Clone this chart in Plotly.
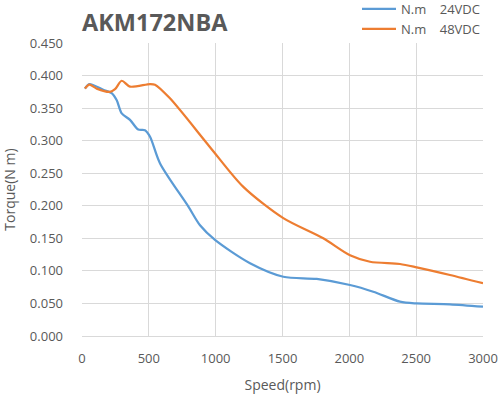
import plotly.graph_objects as go

speed_24 = [22, 55, 159, 222, 260, 297, 359, 421, 471, 509, 584, 795, 883, 995, 1257, 1506, 1756, 2005, 2179, 2379, 2504, 2753, 3000]
torque_24 = [0.380, 0.387, 0.378, 0.373, 0.362, 0.342, 0.332, 0.317, 0.316, 0.306, 0.265, 0.199, 0.170, 0.1475, 0.1117, 0.091, 0.0876, 0.0783, 0.068, 0.0527, 0.050, 0.0487, 0.045]

speed_48 = [22, 55, 110, 209, 247, 297, 359, 509, 546, 658, 958, 1207, 1506, 1805, 2005, 2155, 2379, 2504, 2753, 3000]
torque_48 = [0.380, 0.386, 0.380, 0.375, 0.379, 0.392, 0.383, 0.387, 0.386, 0.365, 0.290, 0.229, 0.181, 0.150, 0.124, 0.114, 0.1106, 0.1055, 0.0937, 0.081]

names = ["N.m\u00a0\u00a0\u00a0\u00a024VDC", "N.m\u00a0\u00a0\u00a0\u00a048VDC"]
colors = ["#5b9bd5", "#ed7d31"]

fig = go.Figure()
for xs, ys, nm, c in [(speed_24, torque_24, names[0], colors[0]), (speed_48, torque_48, names[1], colors[1])]:
    fig.add_trace(go.Scatter(x=xs, y=ys, name=nm, mode="lines",
                             line=dict(color=c, width=2.25, shape="spline", smoothing=0.8)))

font_fam = "Open Sans, DejaVu Sans, sans-serif"
grey = "#595959"
fig.update_layout(
    width=500, height=397,
    margin=dict(l=82, r=17, t=43, b=61, autoexpand=False),
    paper_bgcolor="white", plot_bgcolor="white",
    font=dict(family=font_fam, size=13, color=grey),
    title=dict(text="<b>AKM172NBA</b>", x=82/500, xanchor="left", y=1 - 23/397, yanchor="middle",
               font=dict(size=23.5, color=grey, family=font_fam)),
    legend=dict(x=1 + 2/401, xanchor="right", y=1 + 49/293, yanchor="top",
                bgcolor="rgba(0,0,0,0)", font=dict(size=13, color=grey), itemwidth=34,
                tracegroupgap=0),
    xaxis=dict(range=[0, 3000], dtick=500, tick0=0, showgrid=True, gridcolor="#d9d9d9",
               showline=True, linecolor="#d9d9d9", linewidth=1, zeroline=False, ticks="",
               automargin=False, ticklabelstandoff=10,
               title=dict(text="Speed(rpm)", standoff=14, font=dict(size=14, color=grey)),
               tickfont=dict(size=13, color=grey)),
    yaxis=dict(range=[0, 0.45], dtick=0.05, tick0=0, tickformat=".3f", showgrid=True, gridcolor="#d9d9d9",
               zeroline=False, showline=False, ticks="", automargin=False, ticklabelstandoff=18,
               title=dict(text="Torque(N m)", standoff=14, font=dict(size=14, color=grey)),
               tickfont=dict(size=13, color=grey)),
)
fig.write_html("out.html", config={"displayModeBar": False},
               post_script="document.body.style.margin='0';")
